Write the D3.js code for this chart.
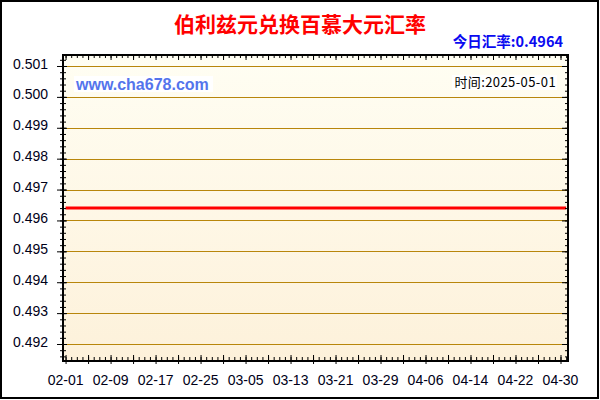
<!DOCTYPE html>
<html>
<head>
<meta charset="utf-8">
<style>
  body { margin: 0; background: #fff; }
  svg { display: block; }
</style>
</head>
<body>
<script src="https://d3js.org/d3.v7.min.js"></script>
<svg id="chart" width="600" height="400"></svg>
<script>
const titleText = "伯利兹元兑换百慕大元汇率"
const todayText = "今日汇率:0.4964"
const siteText = "www.cha678.com"
const timeText = "时间:2025-05-01"

// daily dates, 2025-02-01 .. 2025-05-01
const dates = [
  "2025-02-01","2025-02-02","2025-02-03","2025-02-04","2025-02-05","2025-02-06","2025-02-07","2025-02-08","2025-02-09","2025-02-10",
  "2025-02-11","2025-02-12","2025-02-13","2025-02-14","2025-02-15","2025-02-16","2025-02-17","2025-02-18","2025-02-19","2025-02-20",
  "2025-02-21","2025-02-22","2025-02-23","2025-02-24","2025-02-25","2025-02-26","2025-02-27","2025-02-28","2025-03-01","2025-03-02",
  "2025-03-03","2025-03-04","2025-03-05","2025-03-06","2025-03-07","2025-03-08","2025-03-09","2025-03-10","2025-03-11","2025-03-12",
  "2025-03-13","2025-03-14","2025-03-15","2025-03-16","2025-03-17","2025-03-18","2025-03-19","2025-03-20","2025-03-21","2025-03-22",
  "2025-03-23","2025-03-24","2025-03-25","2025-03-26","2025-03-27","2025-03-28","2025-03-29","2025-03-30","2025-03-31","2025-04-01",
  "2025-04-02","2025-04-03","2025-04-04","2025-04-05","2025-04-06","2025-04-07","2025-04-08","2025-04-09","2025-04-10","2025-04-11",
  "2025-04-12","2025-04-13","2025-04-14","2025-04-15","2025-04-16","2025-04-17","2025-04-18","2025-04-19","2025-04-20","2025-04-21",
  "2025-04-22","2025-04-23","2025-04-24","2025-04-25","2025-04-26","2025-04-27","2025-04-28","2025-04-29","2025-04-30","2025-05-01"
]
const rates = [
  0.4964,0.4964,0.4964,0.4964,0.4964,0.4964,0.4964,0.4964,0.4964,0.4964,
  0.4964,0.4964,0.4964,0.4964,0.4964,0.4964,0.4964,0.4964,0.4964,0.4964,
  0.4964,0.4964,0.4964,0.4964,0.4964,0.4964,0.4964,0.4964,0.4964,0.4964,
  0.4964,0.4964,0.4964,0.4964,0.4964,0.4964,0.4964,0.4964,0.4964,0.4964,
  0.4964,0.4964,0.4964,0.4964,0.4964,0.4964,0.4964,0.4964,0.4964,0.4964,
  0.4964,0.4964,0.4964,0.4964,0.4964,0.4964,0.4964,0.4964,0.4964,0.4964,
  0.4964,0.4964,0.4964,0.4964,0.4964,0.4964,0.4964,0.4964,0.4964,0.4964,
  0.4964,0.4964,0.4964,0.4964,0.4964,0.4964,0.4964,0.4964,0.4964,0.4964,
  0.4964,0.4964,0.4964,0.4964,0.4964,0.4964,0.4964,0.4964,0.4964,0.4964
]

const xLabels = ["02-01","02-09","02-17","02-25","03-05","03-13","03-21","03-29","04-06","04-14","04-22","04-30"]
const yLabels = ["0.492","0.493","0.494","0.495","0.496","0.497","0.498","0.499","0.500","0.501"]

const parse = d3.timeParse("%Y-%m-%d")
const data = dates.map((d, i) => ({date: parse(d), rate: rates[i]}))

const pLeft = 63, pRight = 568, pTop = 55, pBottom = 361
const svg = d3.select("#chart")

const xScale = d3.scaleTime()
  .domain([new Date(2025, 0, 31, 13), new Date(2025, 4, 1, 8)])
  .range([pLeft, pRight])
const yScale = d3.scaleLinear()
  .domain([0.49145, 0.501356])
  .range([pBottom, pTop])

// background
const grad = svg.append("defs").append("linearGradient")
  .attr("id", "bg").attr("x1", 0).attr("y1", 0).attr("x2", 0).attr("y2", 1)
grad.append("stop").attr("offset", "0%").attr("stop-color", "#fffef3")
grad.append("stop").attr("offset", "100%").attr("stop-color", "#fdf1da")

svg.append("rect")
  .attr("x", pLeft).attr("y", pTop)
  .attr("width", pRight - pLeft).attr("height", pBottom - pTop)
  .attr("fill", "url(#bg)")

// grid lines
const yMajor = yLabels.map(Number)
svg.append("g").selectAll("line.grid")
  .data(yMajor)
  .enter()
  .append("line")
  .attr("class", "grid")
  .attr("x1", pLeft).attr("x2", pRight)
  .attr("y1", d => Math.round(yScale(d)) + 0.5)
  .attr("y2", d => Math.round(yScale(d)) + 0.5)
  .attr("stroke", "#b8860b")
  .attr("stroke-width", 1)

// rate line
const line = d3.line()
  .x(d => xScale(d.date))
  .y(d => yScale(d.rate))
svg.append("path")
  .attr("d", line(data))
  .attr("fill", "none")
  .attr("stroke", "#ff0000")
  .attr("stroke-width", 3)

// ticks
const days = d3.timeDay.range(new Date(2025, 1, 1), new Date(2025, 4, 2))
const xMajor = days.filter((d, i) => i % 4 == 0)
const xLabelDates = days.filter((d, i) => i % 8 == 0)
const yMinor = d3.range(0, 49).map(i => 0.4916 + i * 0.0002)

function axisG(axis) {
  const g = svg.append("g").call(axis)
  g.select("path.domain").remove()
  g.selectAll("line").attr("stroke", "#000")
  return g
}

// left: crossing ticks
axisG(d3.axisLeft(yScale).tickValues(yMinor).tickSize(3).tickFormat(""))
  .attr("transform", `translate(${pLeft},0)`)
axisG(d3.axisRight(yScale).tickValues(yMinor).tickSize(3).tickFormat(""))
  .attr("transform", `translate(${pLeft},0)`)
axisG(d3.axisLeft(yScale).tickValues(yMajor).tickSize(6).tickFormat(""))
  .attr("transform", `translate(${pLeft},0)`)
axisG(d3.axisRight(yScale).tickValues(yMajor).tickSize(4).tickFormat(""))
  .attr("transform", `translate(${pLeft},0)`)

// right: inward ticks
axisG(d3.axisLeft(yScale).tickValues(yMinor).tickSize(3).tickFormat(""))
  .attr("transform", `translate(${pRight},0)`)
axisG(d3.axisLeft(yScale).tickValues(yMajor).tickSize(6).tickFormat(""))
  .attr("transform", `translate(${pRight},0)`)

// top: inward ticks
axisG(d3.axisBottom(xScale).tickValues(days).tickSize(3).tickFormat(""))
  .attr("transform", `translate(0,${pTop})`)
axisG(d3.axisBottom(xScale).tickValues(xMajor).tickSize(5).tickFormat(""))
  .attr("transform", `translate(0,${pTop})`)

// bottom: ticks up, majors crossing
axisG(d3.axisTop(xScale).tickValues(days).tickSize(4).tickFormat(""))
  .attr("transform", `translate(0,${pBottom})`)
axisG(d3.axisTop(xScale).tickValues(xMajor).tickSize(6).tickFormat(""))
  .attr("transform", `translate(0,${pBottom})`)
axisG(d3.axisBottom(xScale).tickValues(xMajor).tickSize(3).tickFormat(""))
  .attr("transform", `translate(0,${pBottom})`)

// frame of plot
svg.append("rect")
  .attr("x", pLeft).attr("y", pTop)
  .attr("width", pRight - pLeft).attr("height", pBottom - pTop)
  .attr("fill", "none")
  .attr("stroke", "#000")
  .attr("stroke-width", 2)

// tick labels
svg.append("g").selectAll("text.ylab")
  .data(yLabels)
  .enter()
  .append("text")
  .attr("class", "ylab")
  .attr("x", 48)
  .attr("y", d => yScale(+d) - 2.5)
  .attr("dy", "0.36em")
  .attr("text-anchor", "end")
  .style("font", "14px 'Liberation Sans', Arial, sans-serif")
  .style("fill", "#000018")
  .text(d => d)

svg.append("g").selectAll("text.xlab")
  .data(xLabels)
  .enter()
  .append("text")
  .attr("class", "xlab")
  .attr("x", (d, i) => xScale(xLabelDates[i]))
  .attr("y", 385)
  .attr("text-anchor", "middle")
  .style("font", "14px 'Liberation Sans', Arial, sans-serif")
  .style("fill", "#000018")
  .text(d => d)

// titles
svg.append("text")
  .attr("x", 300).attr("y", 32)
  .attr("text-anchor", "middle")
  .style("font", "bold 21px 'Noto Sans CJK SC', sans-serif")
  .style("fill", "#ff0000")
  .text(titleText)

svg.append("text")
  .attr("x", 563).attr("y", 47)
  .attr("text-anchor", "end")
  .style("font", "bold 14.5px 'Noto Sans CJK SC', sans-serif")
  .style("fill", "#0a0af0")
  .text(todayText)

// watermark and date boxes
svg.append("rect").attr("x", 74).attr("y", 76).attr("width", 139).attr("height", 16).attr("fill", "#fff")
svg.append("text")
  .attr("x", 76).attr("y", 90)
  .style("font", "bold 16px 'Liberation Sans', Arial, sans-serif")
  .style("fill", "#5474ec")
  .text(siteText)

svg.append("rect").attr("x", 452).attr("y", 75).attr("width", 105).attr("height", 15).attr("fill", "#fff")
svg.append("text")
  .attr("x", 556).attr("y", 87)
  .attr("text-anchor", "end")
  .style("font", "13px 'Noto Sans CJK SC', sans-serif")
  .style("letter-spacing", "0.4px")
  .style("fill", "#000")
  .text(timeText)

// outer border
svg.append("rect")
  .attr("x", 1).attr("y", 1)
  .attr("width", 597).attr("height", 397)
  .attr("fill", "none")
  .attr("stroke", "#000")
  .attr("stroke-width", 2)
</script>
</body>
</html>
